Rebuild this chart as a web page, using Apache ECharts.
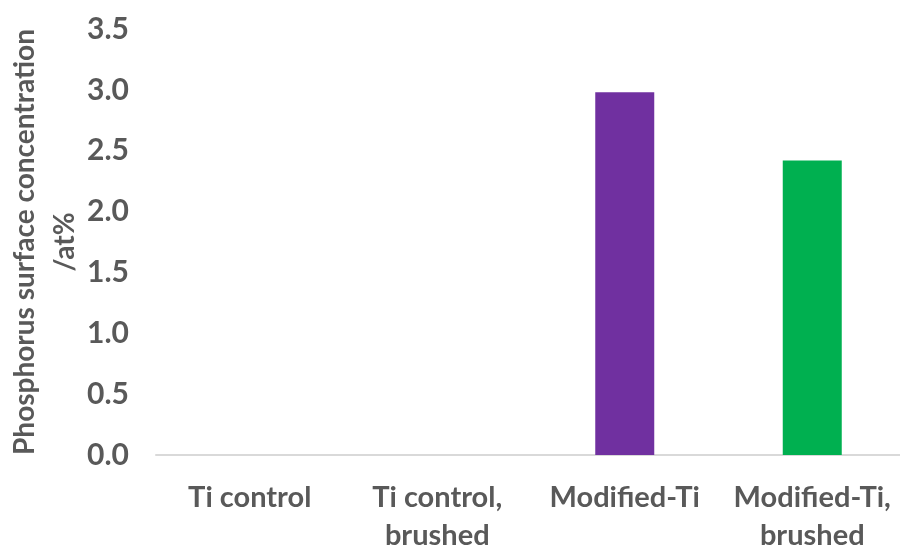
<!DOCTYPE html>
<html>
<head>
<meta charset="utf-8">
<script src="https://cdn.jsdelivr.net/npm/echarts@6/dist/echarts.min.js"></script>
<style>
  html, body { margin: 0; padding: 0; background: #fff; }
  #chart { width: 900px; height: 552px; }
</style>
</head>
<body>
<div id="chart"></div>
<script>
// Phosphorus surface concentration per sample group
const categories = ['Ti control', 'Ti control,\nbrushed', 'Modified-Ti', 'Modified-Ti,\nbrushed'];
const values = [0, 0, 2.98, 2.42];
const barColors = ['#4472C4', '#ED7D31', '#7030A0', '#00B050'];
const yTicks = { min: 0, max: 3.5, interval: 0.5 };

const textColor = '#595959';
const fontFamily = 'Lato, "Open Sans", sans-serif';

const chart = echarts.init(document.getElementById('chart'), null, { renderer: 'canvas' });
chart.setOption({
  animation: false,
  grid: { left: 156, top: 29, width: 750, bottom: 97, outerBoundsMode: 'none', containLabel: false },
  xAxis: {
    type: 'category',
    data: categories,
    axisLine: { lineStyle: { color: '#d9d9d9', width: 2 } },
    axisTick: { show: false },
    axisLabel: {
      color: textColor, fontFamily, fontWeight: 'bold', fontSize: 29,
      lineHeight: 38, margin: 24, interval: 0
    }
  },
  yAxis: {
    type: 'value',
    min: yTicks.min, max: yTicks.max, interval: yTicks.interval,
    name: 'Phosphorus surface concentration\n/at%',
    nameLocation: 'middle',
    nameGap: 71,
    nameMoveOverlap: false,
    nameTextStyle: { color: textColor, fontFamily, fontWeight: 'bold', fontSize: 28, lineHeight: 40 },
    splitLine: { show: false },
    axisLine: { show: false },
    axisTick: { show: false },
    axisLabel: {
      color: textColor, fontFamily, fontWeight: 'bold', fontSize: 30, margin: 27,
      formatter: v => v.toFixed(1)
    }
  },
  series: [{
    type: 'bar',
    barWidth: 59,
    data: values.map((v, i) => ({ value: v, itemStyle: { color: barColors[i] } }))
  }]
});
</script>
</body>
</html>
